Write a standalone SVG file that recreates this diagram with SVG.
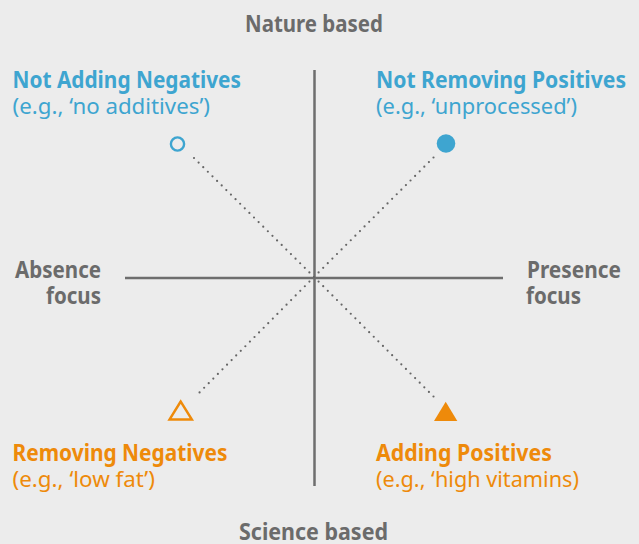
<svg xmlns="http://www.w3.org/2000/svg" width="639" height="544" viewBox="0 0 639 544">
<style>
text{font-family:"Noto Sans","Open Sans","Liberation Sans",sans-serif}
.ax{font-weight:700;font-size:23px;fill:#6b6b6b}
.h{font-weight:700;font-size:23px}
.s{font-weight:400;font-size:21px}
.blue{fill:#3ea5d0}
.orange{fill:#ee8a0a}
.axis{stroke:#6e6e6e;stroke-width:2.5;fill:none}
.dot{stroke:#666666;stroke-width:2.2;stroke-dasharray:0 6.5;stroke-linecap:round;fill:none}
</style>
<rect width="639" height="544" fill="#ececec"/>
<g id="connectors">
<line class="axis" x1="314.5" y1="70" x2="314.5" y2="486"/>
<line class="axis" x1="125" y1="278" x2="503" y2="278"/>
<line class="dot" x1="314" y1="277" x2="193" y2="157"/>
<line class="dot" x1="314" y1="277" x2="436" y2="155"/>
<line class="dot" x1="314" y1="277" x2="195" y2="397"/>
<line class="dot" x1="314" y1="277" x2="434" y2="397"/>
</g>
<g id="axis-labels">
<text class="ax" x="245" y="32" textLength="138" lengthAdjust="spacingAndGlyphs">Nature based</text>
<text class="ax" x="239" y="540" textLength="149" lengthAdjust="spacingAndGlyphs">Science based</text>
<text class="ax" x="15" y="278" textLength="86" lengthAdjust="spacingAndGlyphs">Absence</text>
<text class="ax" x="46" y="304" textLength="55" lengthAdjust="spacingAndGlyphs">focus</text>
<text class="ax" x="527" y="278" textLength="94" lengthAdjust="spacingAndGlyphs">Presence</text>
<text class="ax" x="526" y="304" textLength="55" lengthAdjust="spacingAndGlyphs">focus</text>
</g>
<g id="not-adding-negatives">
<circle cx="177.5" cy="144" r="6.6" fill="none" stroke="#3ea5d0" stroke-width="2.4"/>
<text class="h blue" x="12.5" y="88" textLength="228.5" lengthAdjust="spacingAndGlyphs">Not Adding Negatives</text>
<text class="s blue" x="12.5" y="114" textLength="197.5" lengthAdjust="spacingAndGlyphs">(e.g., ‘no additives’)</text>
</g>
<g id="not-removing-positives">
<circle cx="446" cy="143.5" r="9.3" fill="#3ea5d0"/>
<text class="h blue" x="376" y="88" textLength="250" lengthAdjust="spacingAndGlyphs">Not Removing Positives</text>
<text class="s blue" x="376" y="114" textLength="201" lengthAdjust="spacingAndGlyphs">(e.g., ‘unprocessed’)</text>
</g>
<g id="removing-negatives">
<polygon points="180.7,401.5 169.5,419.5 191.9,419.5" fill="none" stroke="#ee8a0a" stroke-width="2.4" stroke-linejoin="miter"/>
<text class="h orange" x="12.5" y="461" textLength="215" lengthAdjust="spacingAndGlyphs">Removing Negatives</text>
<text class="s orange" x="12.5" y="487" textLength="142.5" lengthAdjust="spacingAndGlyphs">(e.g., ‘low fat’)</text>
</g>
<g id="adding-positives">
<polygon points="445.7,401.7 434,421 457.3,421" fill="#ee8a0a"/>
<text class="h orange" x="376" y="461" textLength="176" lengthAdjust="spacingAndGlyphs">Adding Positives</text>
<text class="s orange" x="376" y="487" textLength="203" lengthAdjust="spacingAndGlyphs">(e.g., ‘high vitamins)</text>
</g>
</svg>
